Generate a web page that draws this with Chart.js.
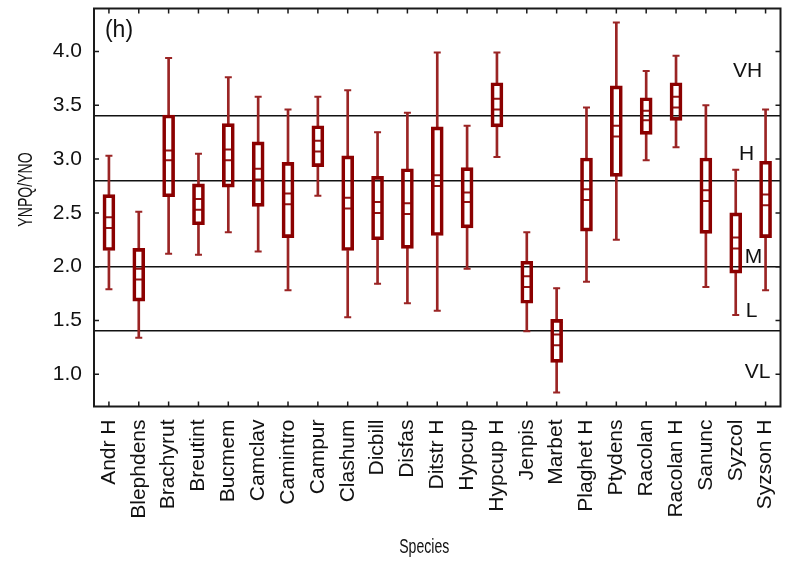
<!DOCTYPE html>
<html>
<head>
<meta charset="utf-8">
<title>YNPQ/YNO por espécie</title>
<script src="https://cdn.jsdelivr.net/npm/chart.js@4.4.1/dist/chart.umd.min.js"></script>
<style>
  html, body { margin: 0; padding: 0; background: #fff; }
  #grafico { display: block; }
</style>
</head>
<body>
<canvas id="grafico" width="787" height="563"></canvas>
<script>
const species = [
  "Andr H", "Blephdens", "Brachyrut", "Breutint", "Bucmem", "Camclav",
  "Camintro", "Campur", "Clashum", "Dicbill", "Disfas", "Ditstr H",
  "Hypcup", "Hypcup H", "Jenpis", "Marbet", "Plaghet H", "Ptydens",
  "Racolan", "Racolan H", "Sanunc", "Syzcol", "Syzson H",
];

// whisker ends, box edges and the two lines inside each box
const minVals = [1.79, 1.34, 2.12, 2.11, 2.32, 2.14, 1.78, 2.66, 1.53, 1.84, 1.66, 1.59, 1.98, 3.02, 1.40, 0.83, 1.86, 2.25, 2.99, 3.11, 1.81, 1.55, 1.78];
const q1Vals = [2.15, 1.68, 2.65, 2.39, 2.74, 2.56, 2.27, 2.93, 2.15, 2.25, 2.17, 2.29, 2.36, 3.30, 1.66, 1.11, 2.33, 2.84, 3.23, 3.36, 2.31, 1.94, 2.27];
const meanVals = [2.36, 1.88, 2.99, 2.53, 2.99, 2.81, 2.58, 3.07, 2.54, 2.50, 2.49, 2.75, 2.60, 3.46, 1.81, 1.27, 2.62, 3.21, 3.36, 3.48, 2.61, 2.17, 2.57];
const medianVals = [2.46, 1.98, 3.08, 2.63, 3.09, 2.91, 2.68, 3.17, 2.64, 2.60, 2.59, 2.85, 2.69, 3.56, 1.91, 1.37, 2.72, 3.31, 3.45, 3.58, 2.71, 2.27, 2.67];
const q3Vals = [2.67, 2.17, 3.41, 2.77, 3.33, 3.16, 2.97, 3.31, 3.03, 2.84, 2.91, 3.30, 2.92, 3.71, 2.05, 1.51, 3.01, 3.68, 3.57, 3.71, 3.01, 2.50, 2.98];
const maxVals = [3.03, 2.51, 3.94, 3.05, 3.76, 3.58, 3.46, 3.58, 3.64, 3.25, 3.43, 3.99, 3.31, 3.99, 2.32, 1.80, 3.48, 4.27, 3.82, 3.96, 3.50, 2.90, 3.46];

const yTicks = [1.0, 1.5, 2.0, 2.5, 3.0, 3.5, 4.0];
const classLimits = [1.4, 2.0, 2.8, 3.4];
const classNames = ["VH", "H", "M", "L", "VL"];
const classLabelY = [3.82, 3.05, 2.09, 1.59, 1.02];

const RED = "#8b0000";
const WHISKER = "#9a2424";
const FONT = "'Liberation Sans', Arial, sans-serif";

const boxes = q1Vals.map((q, i) => [q, q3Vals[i]]);
const lowWhisker = minVals.map((m, i) => [m, q1Vals[i]]);
const highWhisker = q3Vals.map((q, i) => [q, maxVals[i]]);

// texto estreito (fonte condensada) para os títulos dos eixos
function narrowText(ctx, text, x, y, rot) {
  ctx.save();
  ctx.translate(x, y);
  ctx.rotate(rot);
  ctx.scale(0.67, 1);
  ctx.fillText(text, 0, 0);
  ctx.restore();
}

// moldura com ticks para dentro, títulos, rótulos das classes e "(h)"
const moldura = {
  id: "moldura",
  afterDraw(chart) {
    const { ctx, chartArea: a, scales } = chart;
    ctx.save();
    ctx.strokeStyle = "#1a1a1a";
    ctx.lineWidth = 2;
    ctx.strokeRect(a.left, a.top, a.right - a.left, a.bottom - a.top);

    ctx.lineWidth = 1.5;
    ctx.beginPath();
    scales.y.ticks.forEach((t) => {
      const y = scales.y.getPixelForValue(t.value);
      ctx.moveTo(a.left, y);
      ctx.lineTo(a.left + 5, y);
      ctx.moveTo(a.right, y);
      ctx.lineTo(a.right - 5, y);
    });
    species.forEach((s, i) => {
      const x = scales.x.getPixelForTick(i);
      ctx.moveTo(x, a.bottom);
      ctx.lineTo(x, a.bottom - 5);
      ctx.moveTo(x, a.top);
      ctx.lineTo(x, a.top + 5);
    });
    ctx.stroke();

    ctx.fillStyle = "#111";
    ctx.textBaseline = "middle";
    ctx.textAlign = "center";
    ctx.font = "21px " + FONT;
    const dx = [33, 34, 27, 29, 23];
    classNames.forEach((n, i) => {
      ctx.fillText(n, a.right - dx[i], scales.y.getPixelForValue(classLabelY[i]));
    });
    ctx.font = "23px " + FONT;
    ctx.fillText("(h)", a.left + 25, a.top + 22);

    ctx.font = "21px " + FONT;
    narrowText(ctx, "YNPQ/YNO", 26, (a.top + a.bottom) / 2 - 18, -Math.PI / 2);
    narrowText(ctx, "Species", (a.left + a.right) / 2 - 13, 547, 0);
    ctx.restore();
  },
};

document.addEventListener("DOMContentLoaded", () => {
  const ctx = document.getElementById("grafico").getContext("2d");
  new Chart(ctx, {
    type: "bar",
    data: {
      labels: species,
      datasets: [
        {
          label: "caixa",
          data: boxes,
          grouped: false,
          barThickness: 12,
          backgroundColor: "rgba(255,255,255,0)",
          borderColor: RED,
          borderWidth: 3,
          borderSkipped: false,
        },
        {
          label: "bigode inferior",
          data: lowWhisker,
          grouped: false,
          barThickness: 2,
          backgroundColor: WHISKER,
          borderWidth: 0,
        },
        {
          label: "bigode superior",
          data: highWhisker,
          grouped: false,
          barThickness: 2,
          backgroundColor: WHISKER,
          borderWidth: 0,
        },
        {
          type: "line",
          label: "mediana",
          data: medianVals,
          showLine: false,
          pointStyle: "line",
          pointRadius: 4.5,
          pointHoverRadius: 4.5,
          borderColor: "#921414",
          pointBorderWidth: 2,
        },
        {
          type: "line",
          label: "média",
          data: meanVals,
          showLine: false,
          pointStyle: "line",
          pointRadius: 4.5,
          pointHoverRadius: 4.5,
          borderColor: "#921414",
          pointBorderWidth: 2,
        },
        {
          type: "line",
          label: "mínimo",
          data: minVals,
          showLine: false,
          pointStyle: "line",
          pointRadius: 3.5,
          pointHoverRadius: 3.5,
          borderColor: WHISKER,
          pointBorderWidth: 2,
        },
        {
          type: "line",
          label: "máximo",
          data: maxVals,
          showLine: false,
          pointStyle: "line",
          pointRadius: 3.5,
          pointHoverRadius: 3.5,
          borderColor: WHISKER,
          pointBorderWidth: 2,
        },
      ],
    },
    options: {
      responsive: false,
      animation: false,
      events: [],
      devicePixelRatio: 1,
      layout: { padding: { left: 0, right: 3, top: 8.5, bottom: 0 } },
      plugins: {
        legend: { display: false },
        tooltip: { enabled: false },
      },
      scales: {
        x: {
          offset: true,
          grid: { display: false, drawTicks: false },
          border: { display: false },
          afterFit: (axis) => {
            axis.height = 156.5;
            axis.paddingLeft = 0;
            axis.paddingRight = 0;
          },
          ticks: {
            autoSkip: false,
            minRotation: 90,
            maxRotation: 90,
            padding: 13,
            color: "#111",
            font: { family: FONT, size: 21 },
          },
        },
        y: {
          min: 0.7,
          max: 4.4,
          afterBuildTicks: (axis) => {
            axis.ticks = yTicks.map((v) => ({ value: v }));
          },
          afterFit: (axis) => {
            axis.width = 94;
            axis.paddingTop = 0;
            axis.paddingBottom = 0;
          },
          grid: { display: false, drawTicks: false },
          border: { display: false },
          ticks: {
            padding: 12,
            color: "#111",
            font: { family: FONT, size: 21 },
            callback: (v) => Number(v).toFixed(1),
          },
        },
        // linhas de separação das classes VL / L / M / H / VH
        limites: {
          type: "linear",
          position: "right",
          min: 0.7,
          max: 4.4,
          afterBuildTicks: (axis) => {
            axis.ticks = classLimits.map((v) => ({ value: v }));
          },
          afterFit: (axis) => {
            axis.width = 0;
            axis.paddingTop = 0;
            axis.paddingBottom = 0;
          },
          ticks: { display: false },
          border: { display: false },
          grid: { color: "#111", lineWidth: 1.6, drawTicks: false },
        },
      },
    },
    plugins: [moldura],
  });
});
</script>
</body>
</html>
